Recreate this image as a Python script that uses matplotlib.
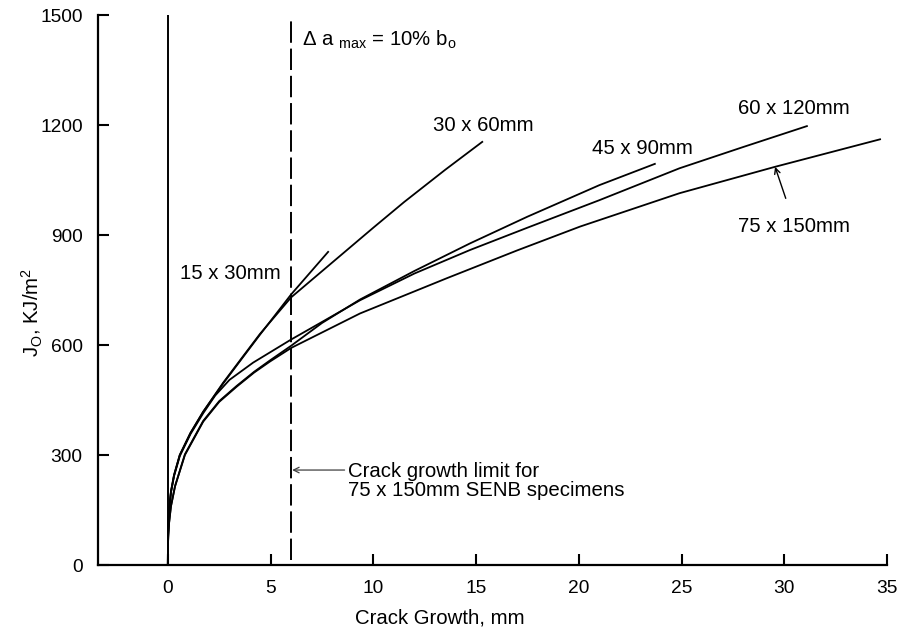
import matplotlib
matplotlib.use("Agg")
import matplotlib.pyplot as plt

plt.rcParams['font.family'] = ['Liberation Sans', 'DejaVu Sans']
plt.rcParams['mathtext.fontset'] = 'custom'
plt.rcParams['mathtext.rm'] = 'Liberation Sans'
plt.rcParams['mathtext.it'] = 'Liberation Sans:italic'

# ---- data ----
x_15x30 = [0, 0.005, 0.02, 0.06, 0.15, 0.3, 0.58, 1.1, 1.72, 2.69, 3.67, 4.48, 6.0, 7.8]
y_15x30 = [0, 70, 105, 150, 200, 245, 300, 360, 418, 495, 568, 628, 738, 854]

x_30x60 = [0, 0.005, 0.02, 0.06, 0.15, 0.3, 0.58, 1.1, 1.72, 2.69, 3.67, 4.48, 6.0, 8.0, 10.0, 11.5, 13.5, 15.3]
y_30x60 = [0, 70, 105, 150, 200, 245, 300, 360, 418, 497, 570, 630, 730, 825, 920, 990, 1078, 1154]

x_45x90 = [0, 0.005, 0.02, 0.06, 0.15, 0.35, 0.83, 1.72, 2.5, 3.34, 4.2, 4.97, 6.0, 7.5, 9.35, 12.0, 14.7, 17.5, 21.0, 23.7]
y_45x90 = [0, 55, 77, 115, 160, 215, 302, 393, 447, 488, 527, 558, 598, 660, 724, 802, 877, 950, 1036, 1094]

x_60x120 = [0, 0.005, 0.02, 0.06, 0.15, 0.3, 0.58, 1.1, 1.72, 2.3, 3.0, 4.15, 6.0, 7.6, 9.35, 12.0, 14.7, 17.5, 21.0, 24.9, 28.0, 31.1]
y_60x120 = [0, 68, 103, 147, 197, 242, 297, 357, 414, 462, 505, 552, 615, 666, 722, 795, 859, 920, 995, 1082, 1140, 1197]

x_75x150 = [0, 0.005, 0.02, 0.06, 0.15, 0.35, 0.83, 1.72, 2.5, 3.34, 4.2, 4.97, 6.0, 9.35, 13.57, 17.0, 20.06, 24.9, 29.55, 34.66]
y_75x150 = [0, 55, 77, 115, 160, 215, 300, 391, 445, 486, 525, 555, 592, 686, 782, 858, 923, 1014, 1086, 1161]

series = [
    ("15 x 30mm", x_15x30, y_15x30),
    ("30 x 60mm", x_30x60, y_30x60),
    ("45 x 90mm", x_45x90, y_45x90),
    ("60 x 120mm", x_60x120, y_60x120),
    ("75 x 150mm", x_75x150, y_75x150),
]

x_ticks = [0, 5, 10, 15, 20, 25, 30, 35]
y_ticks = [0, 300, 600, 900, 1200, 1500]
limit_x = 6.0

fig = plt.figure(figsize=(8.99, 6.28), dpi=100)
ax = fig.add_axes([0.109, 0.1003, 0.8777, 0.8758])

for name, xs, ys in series:
    ax.plot(xs, ys, color='black', lw=1.3, solid_joinstyle='round')

ax.axvline(0, color='black', lw=1.4)
dl, = ax.plot([limit_x, limit_x], [15, 1490], color='black', lw=1.4)
dl.set_dashes((11, 3))

ax.set_xlim(-3.4, 35)
ax.set_ylim(0, 1500)
ax.set_xticks(x_ticks)
ax.set_yticks(y_ticks)
for s in ['top', 'right']:
    ax.spines[s].set_visible(False)
for s in ['left', 'bottom']:
    ax.spines[s].set_linewidth(1.6)
ax.tick_params(direction='in', length=8, width=1.5, labelsize=13.8, pad=11)

fs = 14.7
ax.set_xlabel('Crack Growth, mm', fontsize=fs, va='center')
ax.xaxis.set_label_coords(0.433, -0.0964)
ax.set_ylabel(r'J$_{\rm O}$, KJ/m$^{2}$', fontsize=fs, va='center')
ax.yaxis.set_label_coords(-0.083, 0.46)

ax.text(0.58, 796, '15 x 30mm', fontsize=fs, ha='left', va='center')
ax.text(12.9, 1200, '30 x 60mm', fontsize=fs, ha='left', va='center')
ax.text(20.64, 1137, '45 x 90mm', fontsize=fs, ha='left', va='center')
ax.text(27.75, 1246, '60 x 120mm', fontsize=fs, ha='left', va='center')
ax.text(27.75, 922, '75 x 150mm', fontsize=fs, ha='left', va='center')
ax.annotate('', xy=(29.55, 1086), xytext=(30.07, 1000),
            arrowprops=dict(arrowstyle='->', color='black', lw=1.0,
                            shrinkA=0, shrinkB=0, mutation_scale=10))

ax.text(6.55, 1432, r'Δ a $_{\rm max}$ = 10% b$_{\rm o}$', fontsize=fs, ha='left', va='center')

ax.annotate('', xy=(limit_x + 0.05, 259), xytext=(8.6, 259),
            arrowprops=dict(arrowstyle='->', color='0.25', lw=0.9,
                            shrinkA=0, shrinkB=0, mutation_scale=10))
ax.text(8.75, 230, 'Crack growth limit for\n75 x 150mm SENB specimens',
        fontsize=fs, ha='left', va='center', linespacing=1.0)

fig.savefig('out.png', dpi=100)
